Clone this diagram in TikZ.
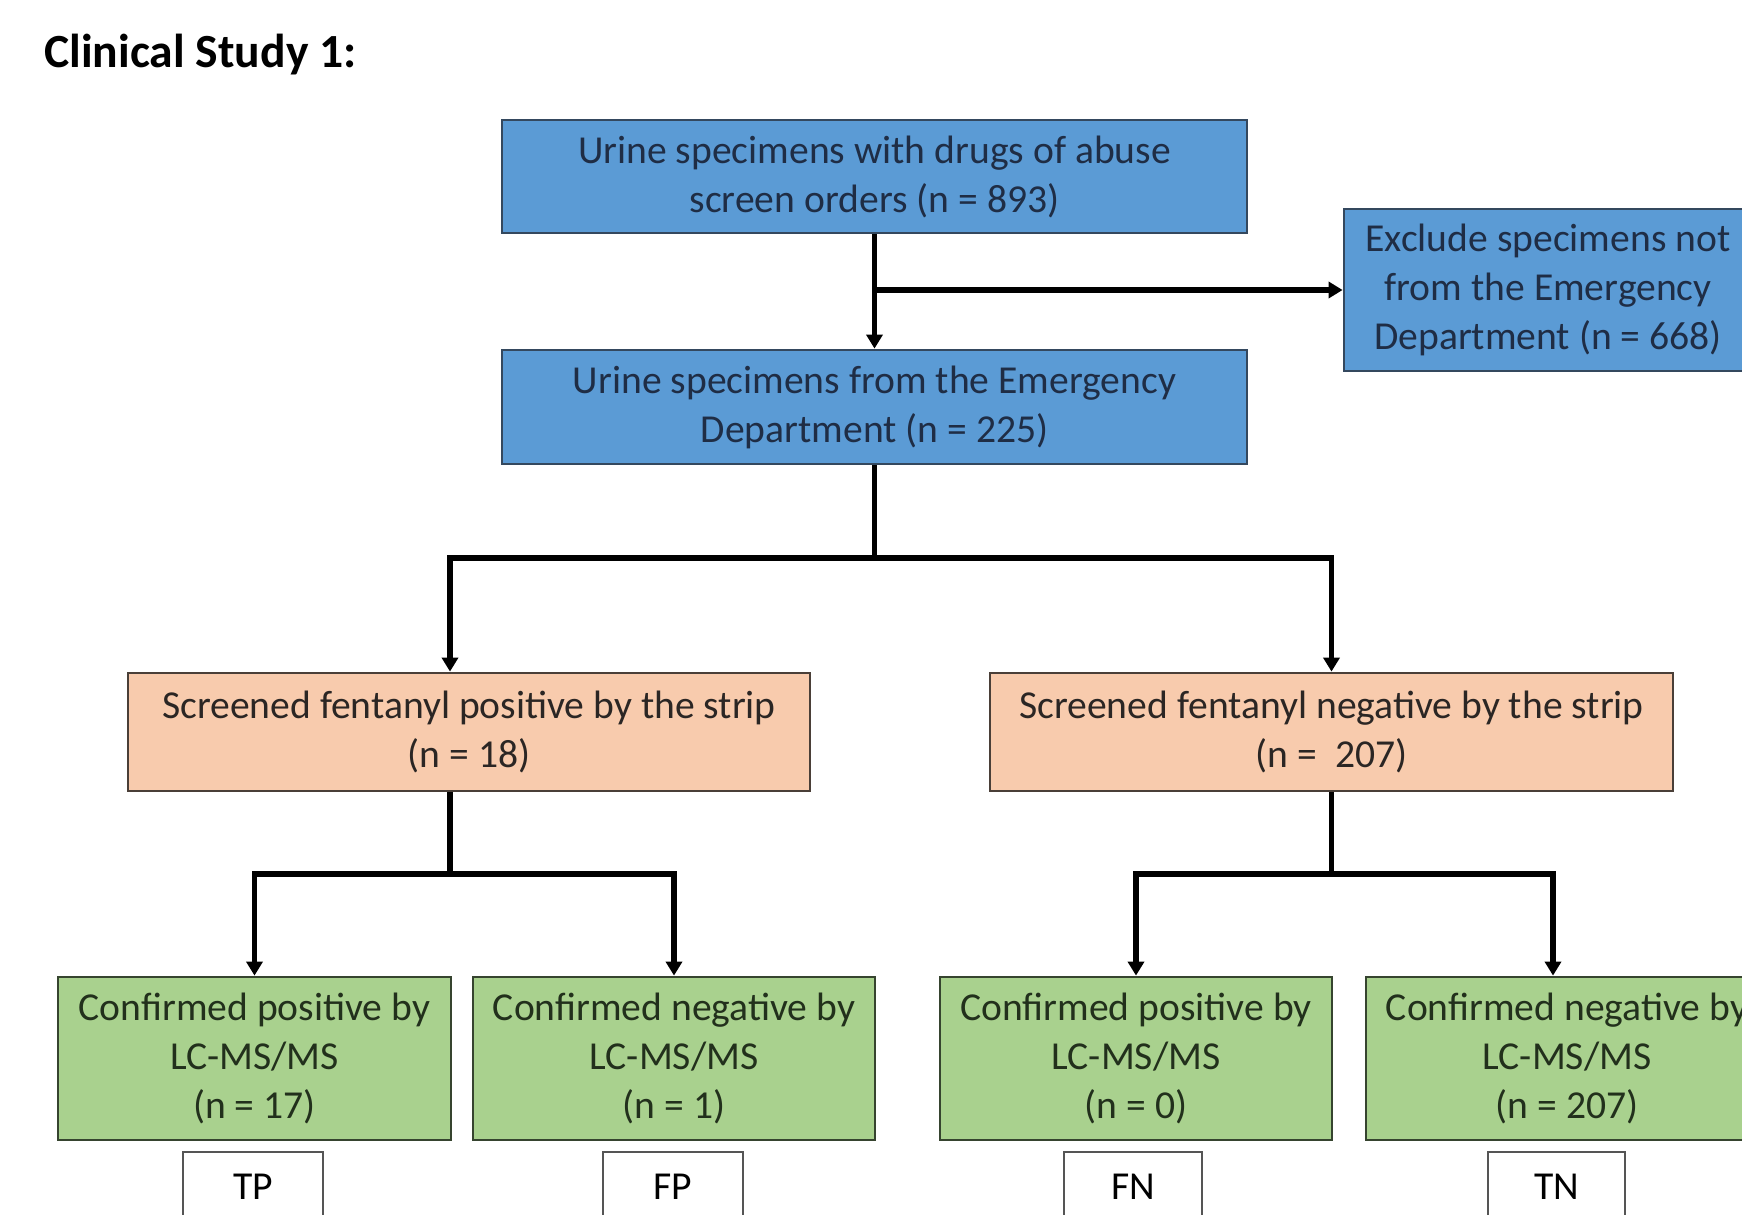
\documentclass[tikz,border=0pt]{standalone}
\usepackage{fontspec}
\setmainfont{Carlito}
\usetikzlibrary{arrows.meta}
\definecolor{bluefill}{HTML}{5B9BD5}
\definecolor{bluetext}{HTML}{1F2D45}
\definecolor{blueborder}{HTML}{34485E}
\definecolor{orfill}{HTML}{F8CBAD}
\definecolor{ortext}{HTML}{2B2624}
\definecolor{orborder}{HTML}{4A3F38}
\definecolor{grfill}{HTML}{A9D18E}
\definecolor{grtext}{HTML}{22301C}
\definecolor{grborder}{HTML}{36442F}
\definecolor{lblborder}{HTML}{555555}
\tikzset{
  basebox/.style={draw, line width=1.4pt, align=center, inner sep=0pt,
    font=\fontsize{19.8}{24.5}\selectfont},
  bluebox/.style={basebox, fill=bluefill, draw=blueborder, text=bluetext},
  orbox/.style={basebox, fill=orfill, draw=orborder, text=ortext},
  grbox/.style={basebox, fill=grfill, draw=grborder, text=grtext},
  lblbox/.style={draw=lblborder, line width=0.9pt, fill=white, text=black, inner sep=0pt,
    font=\fontsize{19.8}{24.5}\selectfont, minimum height=35pt},
  conn/.style={line width=2.6pt, draw=black, line join=miter},
  arr/.style={conn, -{Triangle[length=7pt,width=8pt]}},
}
\begin{document}
\begin{tikzpicture}[x=0.5pt,y=-0.5pt]
\useasboundingbox (0,0) rectangle (1742,1215);
\clip (0,0) rectangle (1742,1215);
\fill[white] (0,0) rectangle (1742,1215);

\node[anchor=base west, inner sep=0pt, font=\bfseries\fontsize{23.8}{28}\selectfont] (title) at (44,68) {Clinical Study 1:};

% top level
\node[bluebox, minimum width=372.5pt, minimum height=56.5pt] (top) at (874.5,176.5)
  {Urine specimens with drugs of abuse\\screen orders (n = 893)};
\node[bluebox, minimum width=204pt, minimum height=81pt] (excl) at (1548,290)
  {Exclude specimens not\\from the Emergency\\Department (n = 668)};
\node[bluebox, minimum width=372.5pt, minimum height=57pt] (second) at (874.5,407)
  {Urine specimens from the Emergency\\Department (n = 225)};

% screening
\node[orbox, minimum width=341pt, minimum height=59pt] (orL) at (469,732)
  {Screened fentanyl positive by the strip\\(n = 18)};
\node[orbox, minimum width=341.5pt, minimum height=59pt] (orR) at (1331.5,732)
  {Screened fentanyl negative by the strip\\(n =\ \ 207)};

% confirmation
\node[grbox, minimum width=196.5pt, minimum height=81.5pt] (g1) at (254.5,1058.5)
  {Confirmed positive by\\LC-MS/MS\\(n = 17)};
\node[grbox, minimum width=201pt, minimum height=81.5pt] (g2) at (674,1058.5)
  {Confirmed negative by\\LC-MS/MS\\(n = 1)};
\node[grbox, minimum width=196pt, minimum height=81.5pt] (g3) at (1136,1058.5)
  {Confirmed positive by\\LC-MS/MS\\(n = 0)};
\node[grbox, minimum width=201pt, minimum height=81.5pt] (g4) at (1567,1058.5)
  {Confirmed negative by\\LC-MS/MS\\(n = 207)};

% labels
\node[lblbox, minimum width=70pt] (tp) at (253,1187) {TP};
\node[lblbox, minimum width=70pt] (fp) at (673,1187) {FP};
\node[lblbox, minimum width=69pt] (fn) at (1133,1187) {FN};
\node[lblbox, minimum width=68.5pt] (tn) at (1556.5,1187) {TN};

% connectors
\coordinate (b1) at (874.5,290);
\draw[arr] (top.south) -- (second.north);
\draw[arr] (b1) -- (excl.west);

\coordinate (sL) at (450,558);
\coordinate (sR) at (1331.5,558);
\draw[arr] (second.south) |- (sL) -- (sL |- orL.north);
\draw[arr] (second.south) |- (sR) -- (orR.north);

\coordinate (jL) at (450,874);
\coordinate (jR) at (1331.5,874);
\draw[arr] (orL.south -| jL) -- (jL) -| (g1.north);
\draw[arr] (jL) -| (g2.north);
\draw[arr] (orR.south) -- (jR) -| (g3.north);
\draw[arr] (jR) -| ([xshift=-7pt]g4.north);
\end{tikzpicture}
\end{document}
